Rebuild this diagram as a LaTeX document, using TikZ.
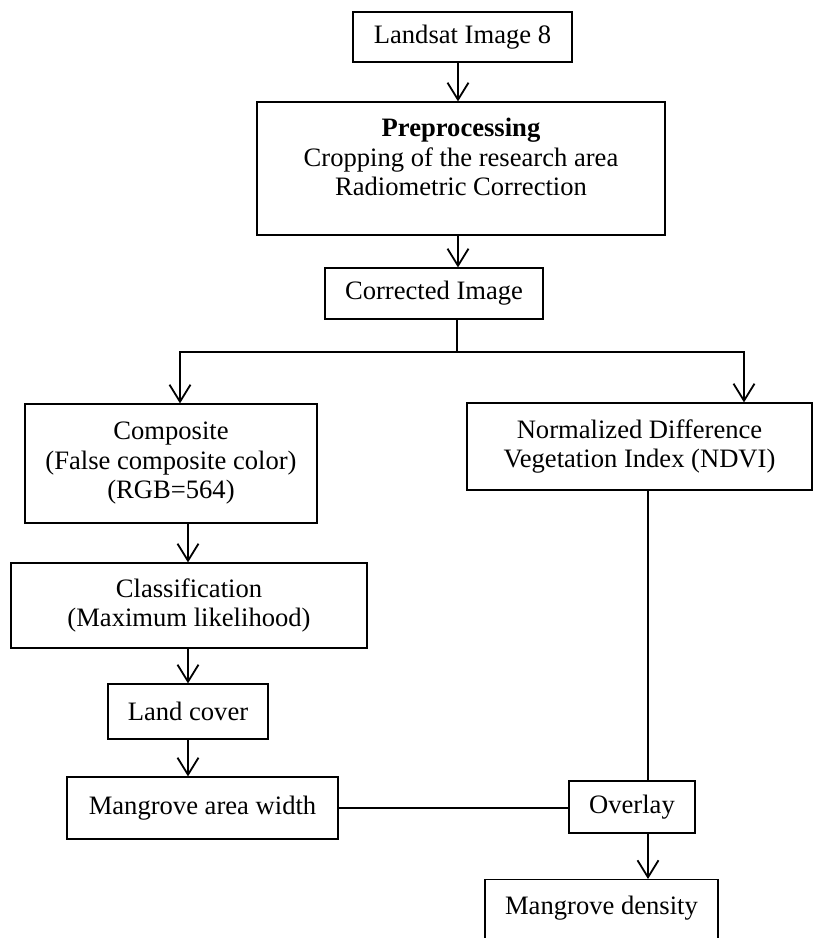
\documentclass[tikz,border=0pt]{standalone}
\usepackage{fontspec}
\setmainfont{Liberation Serif}
\usetikzlibrary{arrows.meta,calc}
\tikzset{
  box/.style={draw, line width=1.2pt, inner sep=0pt, align=center,
    font=\fontsize{26.6pt}{29.5pt}\selectfont},
  link/.style={line width=2.2pt, line cap=rect},
  flow/.style={line width=2.2pt, -{Straight Barb[length=17pt,width=21pt,line width=1.8pt]}}
}

\begin{document}
\begin{tikzpicture}[x=1pt,y=-1pt]
			%%%%% START %%%%%
			\useasboundingbox (0,0) rectangle (817,938);
			\clip (0,0) rectangle (817,938);
			
			\node[box, minimum width=219pt, minimum height=50pt] (landsat) at (462.5,37) {Landsat Image 8};
			\node[box, minimum width=408pt, minimum height=133pt] (prep) at (461,168.5)
			  {\textbf{Preprocessing}\\Cropping of the research area\\Radiometric Correction\\[-7pt]\mbox{}};
			\node[box, minimum width=218pt, minimum height=51pt] (corr) at (434,293.5) {Corrected Image};
			
			\node[box, minimum width=292pt, minimum height=119pt] (comp) at (171,463.5)
			  {Composite\\(False composite color)\\(RGB=564)};
			\node[box, minimum width=345pt, minimum height=87pt] (ndvi) at (639.5,446.5)
			  {Normalized Difference\\Vegetation Index (NDVI)};
			\node[box, minimum width=356pt, minimum height=85pt] (class) at (189,605.5)
			  {Classification\\(Maximum likelihood)};
			\node[box, minimum width=160pt, minimum height=55pt] (cover) at (188,711.5) {Land cover};
			\node[box, minimum width=271pt, minimum height=62pt] (area) at (202.5,808) {Mangrove area width};
			\node[box, minimum width=126pt, minimum height=52pt] (overlay) at (632,807) {Overlay};
			\node[box, anchor=north, minimum width=233pt, text height=35pt, text depth=60pt] (dens) at (601.5,879) {Mangrove density};
			
			\coordinate (stem) at (458,0);
			\coordinate (split) at (457,352);
			\coordinate (splitL) at (180,352);
			\coordinate (splitR) at (744,352);
			\coordinate (leftax) at (188,0);
			\coordinate (rightax) at (648,0);
			
			\draw[flow] (landsat.south -| stem) -- (prep.north -| stem);
			\draw[flow] (prep.south -| stem) -- (corr.north -| stem);
			\draw[link] (corr.south -| split) -- (split);
			\draw[link] (splitL) -- (splitR);
			\draw[flow] (splitL) -- (comp.north -| splitL);
			\draw[flow] (splitR) -- (ndvi.north -| splitR);
			
			\draw[flow] (comp.south -| leftax) -- (class.north -| leftax);
			\draw[flow] (class.south -| leftax) -- (cover.north -| leftax);
			\draw[flow] (cover.south -| leftax) -- (area.north -| leftax);
			
			\draw[link] (area.east) -- (area.east -| overlay.west);
			\draw[link] (ndvi.south -| rightax) -- (overlay.north -| rightax);
			\draw[flow] (overlay.south -| rightax) -- (dens.north -| rightax);
			
			%%%%% END %%%%%
\end{tikzpicture}
\end{document}
